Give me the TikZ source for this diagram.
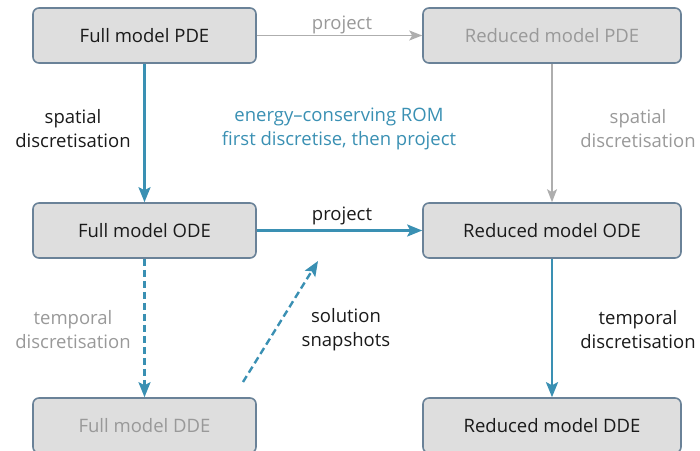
\documentclass[tikz,border=0pt]{standalone}
\usepackage{fontspec}
\setmainfont{Open Sans}
\usepackage{xcolor}
\usepackage{tikz}
\usetikzlibrary{arrows.meta}
\definecolor{boxfill}{HTML}{DEDEDE}
\definecolor{boxline}{HTML}{6A8298}
\definecolor{romblue}{HTML}{3A90B3}
\definecolor{greyline}{HTML}{AEAEAE}
\definecolor{greytext}{HTML}{999999}
\definecolor{ink}{HTML}{1A1A1A}
\tikzset{
  model/.style={draw=boxline, fill=boxfill, line width=1.6pt, rounded corners=6pt,
    minimum width=223pt, minimum height=55pt, inner sep=0pt, text=ink,
    font=\fontsize{18.5}{24}\selectfont},
  redmodel/.style={model, minimum width=258pt},
  faded/.style={text=greytext},
  main/.style={draw=romblue, line width=2.4pt, -{Stealth[length=15pt,width=12pt,inset=3pt]}},
  dashmain/.style={main, dash pattern=on 7pt off 4pt},
  side/.style={draw=greyline, line width=1.4pt, -{Stealth[length=13pt,width=10pt,inset=3pt]}},
  lab/.style={text=ink, align=center, inner sep=0pt, font=\fontsize{18.5}{24}\selectfont},
  labm/.style={lab, text=greytext},
  labb/.style={lab, text=romblue},
}
\begin{document}
\begin{tikzpicture}[x=1pt,y=-1pt]
  \useasboundingbox (0,0) rectangle (700,450);

  % the six models
  \node[model] (fpde) at (144.5,35.5) {Full model PDE};
  \node[redmodel,faded] (rpde) at (552,35.5) {Reduced model PDE};
  \node[model] (fode) at (144.5,230.5) {Full model ODE};
  \node[redmodel] (rode) at (552,230.5) {Reduced model ODE};
  \node[model,faded] (fdde) at (144.5,425.5) {Full model DDE};
  \node[redmodel] (rdde) at (552,425.5) {Reduced model DDE};

  % snapshots arrow ends
  \coordinate (snapfrom) at (243,382);
  \coordinate (snapto) at (318,261);

  % connectors
  \draw[side] (fpde) -- (rpde);
  \draw[side] (rpde) -- (rode);
  \draw[main] (fpde) -- (fode);
  \draw[main] (fode) -- (rode);
  \draw[dashmain] (fode) -- (fdde);
  \draw[dashmain] (snapfrom) -- (snapto);
  \draw[main] (rode) -- (rdde);

  % labels
  \node[labm] (projtop) at (342,25) {project};
  \node[lab] (spatl) at (73,129) {spatial\\discretisation};
  \node[labm] (spatr) at (638,129) {spatial\\discretisation};
  \node[labb] (romnote) at (339,129) {energy--conserving ROM\\first discretise, then project};
  \node[lab] (projmid) at (342,216) {project};
  \node[labm] (templ) at (73,330) {temporal\\discretisation};
  \node[lab] (snaps) at (346,330) {solution\\snapshots};
  \node[lab] (tempr) at (638,330) {temporal\\discretisation};
\end{tikzpicture}
\end{document}
